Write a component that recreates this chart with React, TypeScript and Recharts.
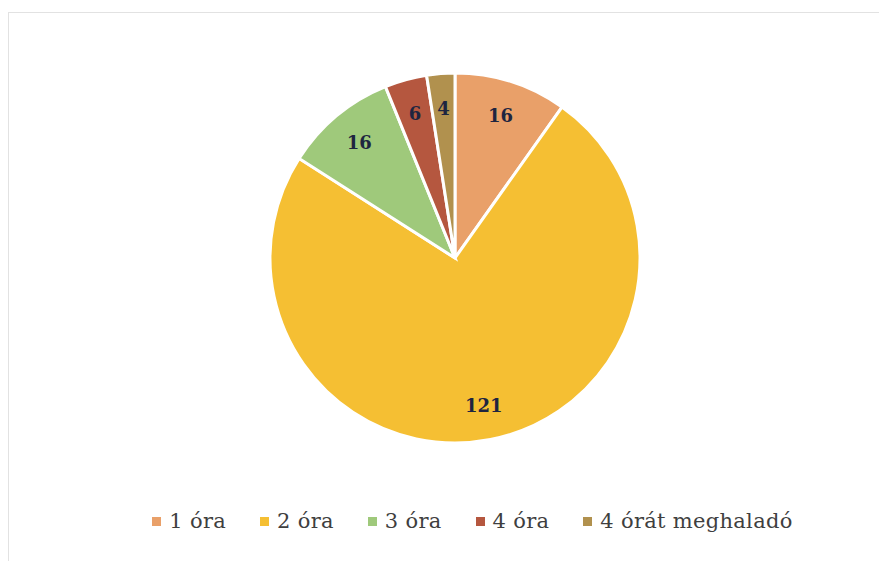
import { Cell, Legend, Pie, PieChart } from 'recharts'

const categories = ['1 óra', '2 óra', '3 óra', '4 óra', '4 órát meghaladó']
const counts = [16, 121, 16, 6, 4]
const colors = ['#E9A069', '#F5BF33', '#9FC97B', '#B5573F', '#B1914E']

const data = categories.map((name, i) => ({ name, value: counts[i] }))

const RADIAN = Math.PI / 180
const SERIF = "'DejaVu Serif', 'Liberation Serif', serif"

function renderLabel(props: any) {
  const { cx, cy, midAngle, outerRadius, value } = props
  const r = outerRadius * 0.81
  const x = cx + r * Math.cos(-midAngle * RADIAN)
  const y = cy + r * Math.sin(-midAngle * RADIAN)
  return (
    <text
      x={x}
      y={y}
      textAnchor="middle"
      dominantBaseline="central"
      fill="#1E2540"
      style={{ fontFamily: SERIF, fontWeight: 'bold', fontSize: 18 }}
    >
      {value}
    </text>
  )
}

function LegendContent({ payload }: any) {
  return (
    <div style={{ display: 'flex', justifyContent: 'center', gap: 34 }}>
      {(payload || []).map((entry: any) => (
        <div key={entry.value} style={{ display: 'flex', alignItems: 'center' }}>
          <span
            style={{ width: 9, height: 9, background: entry.color, display: 'inline-block', marginRight: 8 }}
          />
          <span style={{ fontFamily: SERIF, fontSize: 21, letterSpacing: 0.3, color: '#3F3F3F' }}>
            {entry.value}
          </span>
        </div>
      ))}
    </div>
  )
}

export default function App() {
  return (
    <div style={{ position: 'absolute', left: 0, top: 0, width: 885, height: 562, background: '#fff' }}>
      <div
        style={{
          position: 'absolute',
          left: 8,
          top: 12,
          width: 870,
          height: 548,
          borderTop: '1px solid #e2e2e2',
          borderLeft: '1px solid #e2e2e2',
        }}
      />
      <PieChart width={885} height={562}>
        <Pie
          data={data}
          dataKey="value"
          nameKey="name"
          cx={450}
          cy={253}
          outerRadius={185}
          startAngle={90}
          endAngle={-270}
          stroke="#ffffff"
          strokeWidth={3}
          label={renderLabel}
          labelLine={false}
          isAnimationActive={false}
        >
          {data.map((d, i) => (
            <Cell key={d.name} fill={colors[i]} />
          ))}
        </Pie>
        <Legend
          content={<LegendContent />}
          wrapperStyle={{ top: 509, left: 30, width: 885 }}
        />
      </PieChart>
    </div>
  )
}
